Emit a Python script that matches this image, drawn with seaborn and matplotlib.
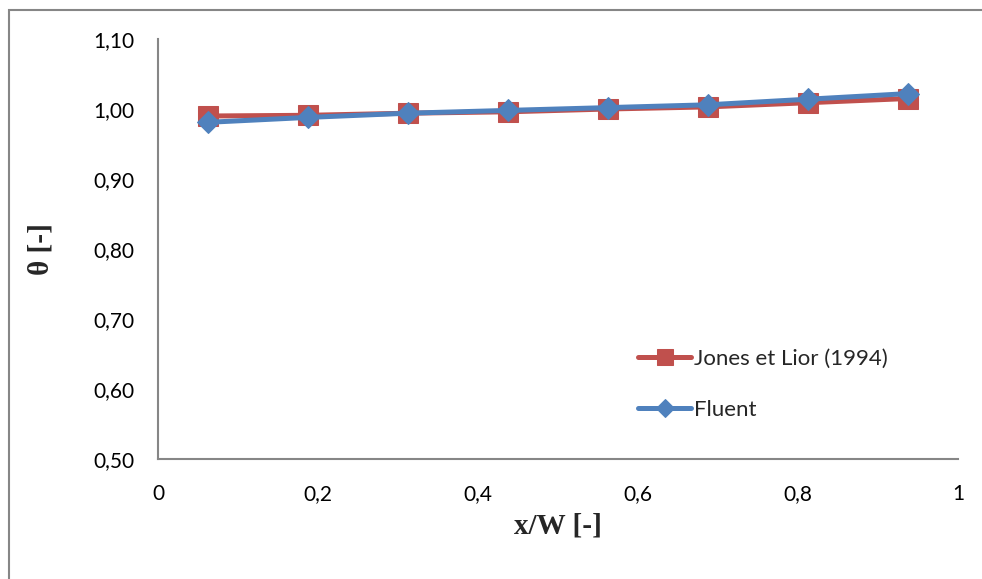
import pandas as pd
import matplotlib.pyplot as plt
import seaborn as sns
from matplotlib.patches import Rectangle
from matplotlib.ticker import FuncFormatter

# Data
x_pos = [0.0625, 0.1875, 0.3125, 0.4375, 0.5625, 0.6875, 0.8125, 0.9375]
jones = [0.990, 0.991, 0.994, 0.996, 1.000, 1.003, 1.009, 1.015]
fluent = [0.981, 0.988, 0.994, 0.998, 1.002, 1.006, 1.014, 1.022]

df_j = pd.DataFrame({'x': x_pos, 'theta': jones})
df_f = pd.DataFrame({'x': x_pos, 'theta': fluent})

sns.set_style("white")
plt.rcParams['font.family'] = ['Lato', 'DejaVu Sans']

fig = plt.figure(figsize=(9.82, 5.79), dpi=100)
ax = fig.add_axes([158 / 982, 1 - 459 / 579, 800 / 982, 420 / 579])

sns.lineplot(data=df_j, x='x', y='theta', ax=ax, color='#C0504D', linewidth=3.6,
             marker='s', markersize=14, markeredgecolor='#C0504D',
             label='Jones et Lior (1994)')
sns.lineplot(data=df_f, x='x', y='theta', ax=ax, color='#4F81BD', linewidth=3.6,
             marker='D', markersize=11, markeredgecolor='#4F81BD',
             label='Fluent')

ax.set_xlim(0, 1)
ax.set_ylim(0.5, 1.1)
ax.set_xticks([0, 0.2, 0.4, 0.6, 0.8, 1.0])
ax.set_yticks([0.5, 0.6, 0.7, 0.8, 0.9, 1.0, 1.1])
ax.xaxis.set_major_formatter(FuncFormatter(lambda v, p: f"{v:g}".replace('.', ',')))
ax.yaxis.set_major_formatter(FuncFormatter(lambda v, p: f"{v:.2f}".replace('.', ',')))

for s in ['top', 'right']:
    ax.spines[s].set_visible(False)
for s in ['left', 'bottom']:
    ax.spines[s].set_color('#868686')
    ax.spines[s].set_linewidth(1.5)
ax.tick_params(axis='both', direction='out', length=5, width=1.5, color='#868686',
               labelsize=15, labelcolor='black')
ax.tick_params(axis='y', pad=12)
ax.tick_params(axis='x', pad=13)

ax.set_xlabel('x/W [-]', fontfamily='Liberation Serif', fontweight='bold',
              fontsize=21, labelpad=6)
ax.set_ylabel('θ [-]', fontfamily='Liberation Serif', fontweight='bold',
              fontsize=21, labelpad=28)

leg = ax.legend(loc='upper left', bbox_to_anchor=(0.575, 0.31), frameon=False,
                fontsize=16, handlelength=2.4, handletextpad=0.1, labelspacing=1.4,
                markerscale=0.85)

# chart frame (only left/top edges visible in the crop)
fig.patches.append(Rectangle((9 / 982, -1.0), 3.0, 2.0 - 10 / 579,
                             transform=fig.transFigure, fill=False,
                             edgecolor='#868686', linewidth=1.5))

plt.savefig("out.png", dpi=100)
plt.close()
